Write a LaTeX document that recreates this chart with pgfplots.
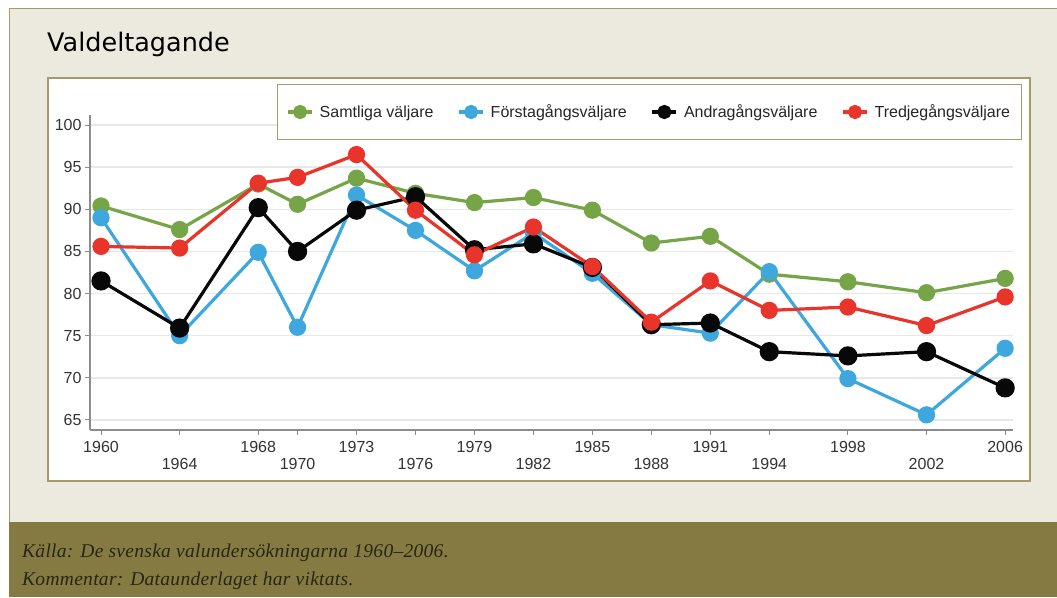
\documentclass[border=0pt]{standalone}
\usepackage{fontspec}
\setmainfont{Liberation Sans}
\newfontfamily\titlefont{DejaVu Sans}
\newfontfamily\notefont[LetterSpace=1.5]{Liberation Serif}
\usepackage{pgfplots}
\pgfplotsset{compat=1.18}
\definecolor{beige}{RGB}{236,233,222}
\definecolor{olive}{RGB}{133,122,66}
\definecolor{frame}{RGB}{165,155,105}
\definecolor{cgreen}{RGB}{118,165,72}
\definecolor{cblue}{RGB}{62,168,222}
\definecolor{cred}{RGB}{232,52,42}
\definecolor{cblack}{RGB}{8,8,8}
\definecolor{notetext}{RGB}{40,37,22}
\begin{document}
\begin{tikzpicture}[x=1pt,y=1pt]
\useasboundingbox (0pt,0pt) rectangle (1057pt,597pt);
\fill[white] (0pt,0pt) rectangle (1057pt,597pt);
\fill[beige] (9pt,75pt) rectangle (1057pt,588pt);
\draw[frame, line width=1pt] (9pt,75pt) -- (9pt,588pt) -- (1057pt,588pt);
\fill[olive] (9pt,0pt) rectangle (1057pt,75pt);
\node[anchor=base west, inner sep=0pt] at (47pt,545pt) {\titlefont\fontsize{25.5}{30}\selectfont Valdeltagande};
\fill[white] (48pt,116pt) rectangle (1030pt,519pt);
\draw[frame, line width=1.2pt] (48pt,116pt) rectangle (1030pt,519pt);
\node[anchor=base west, inner sep=0pt, text=notetext] at (22pt,40pt) {\notefont\itshape\fontsize{19.5}{22}\selectfont Källa: De svenska valundersökningarna 1960–2006.};
\node[anchor=base west, inner sep=0pt, text=notetext] at (22pt,12pt) {\notefont\itshape\fontsize{19.5}{22}\selectfont Kommentar: Dataunderlaget har viktats.};
\begin{axis}[
  at={(90pt,167pt)}, anchor=south west,
  scale only axis, width=923pt, height=315pt,
  xmin=1959.44, xmax=2006.4, ymin=63.8, ymax=101.2,
  axis x line*=bottom, axis y line*=left,
  axis line style={black!45, line width=1.2pt},
  tick style={black!45, line width=1pt},
  tick align=outside, major tick length=5pt,
  ytick={65,70,75,80,85,90,95,100},
  xtick={1960,1968,1973,1979,1985,1991,1998,2006},
  xticklabels={1960,1968,1973,1979,1985,1991,1998,2006},
  xticklabel style={yshift=-2.5pt},
  extra x ticks={1964,1970,1976,1982,1988,1994,2002},
  extra x tick labels={1964,1970,1976,1982,1988,1994,2002},
  extra x tick style={grid=none, tick label style={yshift=-17pt}},
  ymajorgrids, major grid style={black!9, line width=1.5pt},
  tick label style={font=\fontsize{16}{18}\selectfont, text=black!80},
  /pgf/number format/assume math mode=true,
  legend style={at={(axis description cs:0.2026,1.0095)}, anchor=west,
    draw=frame, line width=1pt, fill=white, inner xsep=9pt, inner ysep=18pt,
    font=\fontsize{16}{18}\selectfont, text=black!85,
    /tikz/every odd column/.append style={column sep=4pt},
    /tikz/every even column/.append style={column sep=22pt}},
  legend columns=4,
  legend image code/.code={\draw[mark repeat=2,mark phase=2,#1] plot coordinates {(0pt,0pt) (12pt,0pt) (24pt,0pt)};},
  legend image post style={mark size=5.5pt, line width=3.2pt},
  every axis plot/.append style={line width=3.2pt, mark=*, mark size=7pt},
]
\addplot[color=cgreen] coordinates {(1960,90.4)(1964,87.6)(1968,93.0)(1970,90.6)(1973,93.7)(1976,91.9)(1979,90.8)(1982,91.4)(1985,89.9)(1988,86.0)(1991,86.8)(1994,82.3)(1998,81.4)(2002,80.1)(2006,81.8)};
\addlegendentry{Samtliga väljare}
\addplot[color=cblue] coordinates {(1960,89.0)(1964,75.0)(1968,84.9)(1970,76.0)(1973,91.7)(1976,87.5)(1979,82.7)(1982,87.2)(1985,82.4)(1988,76.3)(1991,75.3)(1994,82.6)(1998,69.9)(2002,65.6)(2006,73.5)};
\addlegendentry{Förstagångsväljare}
\addplot[color=cblack, mark size=8pt] coordinates {(1960,81.5)(1964,75.9)(1968,90.2)(1970,85.0)(1973,89.9)(1976,91.5)(1979,85.2)(1982,85.9)(1985,83.1)(1988,76.3)(1991,76.5)(1994,73.1)(1998,72.6)(2002,73.1)(2006,68.8)};
\addlegendentry{Andragångsväljare}
\addplot[color=cred] coordinates {(1960,85.6)(1964,85.4)(1968,93.1)(1970,93.8)(1973,96.5)(1976,89.9)(1979,84.6)(1982,87.9)(1985,83.2)(1988,76.6)(1991,81.5)(1994,78.0)(1998,78.4)(2002,76.2)(2006,79.6)};
\addlegendentry{Tredjegångsväljare}
\end{axis}
\end{tikzpicture}
\end{document}
